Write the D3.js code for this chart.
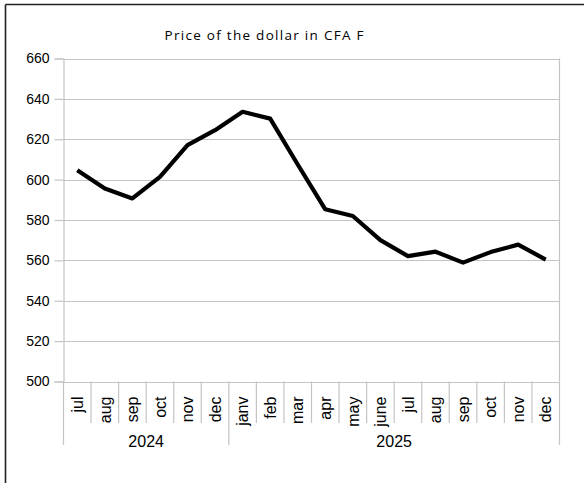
<!DOCTYPE html>
<html>
<head>
<meta charset="utf-8">
<script src="https://cdn.jsdelivr.net/npm/d3@7"></script>
<style>
  html, body { margin: 0; padding: 0; background: #fff; }
  svg { display: block; }
</style>
</head>
<body>
<svg id="chart" width="584" height="483"></svg>
<script>
const title = "Price of the dollar in CFA F";
const months = ["jul","aug","sep","oct","nov","dec","janv","feb","mar","apr","may","june","jul","aug","sep","oct","nov","dec"];
const years = ["2024","2024","2024","2024","2024","2024","2025","2025","2025","2025","2025","2025","2025","2025","2025","2025","2025","2025"];
const prices = [604.7, 595.6, 590.7, 601.4, 617.1, 624.5, 633.6, 630.2, 607.5, 585.3, 582.0, 570.0, 562.1, 564.3, 558.9, 564.1, 567.8, 560.4];
const yTicks = [500, 520, 540, 560, 580, 600, 620, 640, 660];

const svg = d3.select("#chart");
const W = 584, H = 483;
const m = { left: 63.5, right: 559.5, top: 58.5, bottom: 381.5 };
const gridColor = "#c4c4c4";
const font = "Liberation Sans, Arial, sans-serif";

// outer frame (only top and left visible)
svg.append("line").attr("x1", 5.5).attr("y1", 4.5).attr("x2", W).attr("y2", 4.5)
  .attr("stroke", "#222").attr("stroke-width", 1.6);
svg.append("line").attr("x1", 5.5).attr("y1", 4.5).attr("x2", 5.5).attr("y2", H)
  .attr("stroke", "#222").attr("stroke-width", 1.6);

const idx = months.map((d, i) => i);
const x = d3.scaleBand().domain(idx).range([m.left, m.right]).padding(0);
const y = d3.scaleLinear().domain([500, 660]).range([m.bottom, m.top]);

// gridlines
svg.append("g").selectAll("line").data(yTicks).join("line")
  .attr("x1", m.left).attr("x2", m.right)
  .attr("y1", d => Math.round(y(d)) + 0.5).attr("y2", d => Math.round(y(d)) + 0.5)
  .attr("stroke", gridColor).attr("stroke-width", 1.2);

// right border of plot
svg.append("line").attr("x1", m.right).attr("x2", m.right).attr("y1", m.top).attr("y2", m.bottom)
  .attr("stroke", gridColor).attr("stroke-width", 1.2);

// y axis
const yAxis = d3.axisLeft(y).tickValues(yTicks).tickSize(9).tickPadding(5).tickFormat(d3.format("d"));
const yg = svg.append("g").attr("transform", `translate(${m.left},0)`).call(yAxis);
yg.select(".domain").attr("stroke", gridColor).attr("stroke-width", 1.2);
yg.selectAll(".tick line").attr("stroke", gridColor).attr("stroke-width", 1.2);
yg.selectAll(".tick text").attr("font-family", font)
  .attr("font-size", 14).attr("fill", "#000");

// x axis category separators
const bounds = idx.map(i => x(i)).concat([m.right]);
const groupStarts = [0, 6, 18];
svg.append("g").selectAll("line").data(bounds).join("line")
  .attr("x1", d => d).attr("x2", d => d)
  .attr("y1", m.bottom)
  .attr("y2", (d, i) => groupStarts.includes(i) ? 445 : 423)
  .attr("stroke", gridColor).attr("stroke-width", 1.2);

// month labels
svg.append("g").selectAll("text").data(idx).join("text")
  .attr("transform", i => `translate(${x(i) + x.bandwidth() / 2},${396.5}) rotate(-90)`)
  .attr("text-anchor", "end")
  .attr("dy", "0.36em")
  .attr("font-family", font)
  .attr("font-size", 16)
  .attr("fill", "#000")
  .text(i => months[i]);

// year labels
const yearGroups = d3.groups(idx, i => years[i]);
svg.append("g").selectAll("text").data(yearGroups).join("text")
  .attr("x", d => (x(d[1][0]) + x(d[1][d[1].length - 1]) + x.bandwidth()) / 2)
  .attr("y", 446.5)
  .attr("text-anchor", "middle")
  .attr("font-family", font)
  .attr("font-size", 16)
  .attr("fill", "#000")
  .text(d => d[0]);

// line
const line = d3.line().x((d, i) => x(i) + x.bandwidth() / 2).y(d => y(d));
svg.append("path").datum(prices)
  .attr("d", line)
  .attr("fill", "none")
  .attr("stroke", "#000")
  .attr("stroke-width", 4.2)
  .attr("stroke-linejoin", "round");

// title
svg.append("text")
  .attr("x", 264).attr("y", 40)
  .attr("text-anchor", "middle")
  .attr("font-family", "Open Sans, Noto Sans, sans-serif")
  .attr("font-size", 13.5)
  .attr("fill", "#000")
  .attr("textLength", 199)
  .attr("lengthAdjust", "spacing")
  .text(title);
</script>
</body>
</html>
